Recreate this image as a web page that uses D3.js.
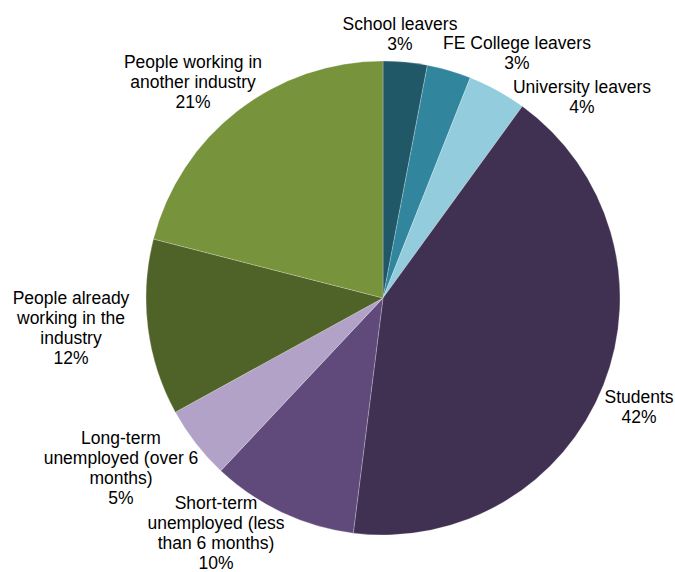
<!DOCTYPE html>
<html>
<head>
<meta charset="utf-8">
<script src="https://cdn.jsdelivr.net/npm/d3@7"></script>
<style>
  html, body { margin: 0; padding: 0; background: #fff; }
  svg { display: block; }
</style>
</head>
<body>
<svg id="chart" width="675" height="572"></svg>
<script>
// Segments, clockwise from 12 o'clock
const categories = [
  "School leavers",
  "FE College leavers",
  "University leavers",
  "Students",
  "Short-term unemployed (less than 6 months)",
  "Long-term unemployed (over 6 months)",
  "People already working in the industry",
  "People working in another industry"
];
const shares = [3, 3, 4, 42, 10, 5, 12, 21];
const colours = ["#215868", "#31859C", "#93CDDD", "#403152", "#604A7B", "#B3A2C7", "#4F6228", "#77933C"];

// Label text broken into the lines shown beside each segment
const labelLines = [
  ["School leavers"],
  ["FE College leavers"],
  ["University leavers"],
  ["Students"],
  ["Short-term", "unemployed (less", "than 6 months)"],
  ["Long-term", "unemployed (over 6", "months)"],
  ["People already", "working in the", "industry"],
  ["People working in", "another industry"]
];
// Anchor (centre x, first baseline y) of each label block
const labelPos = [
  [400, 30], [517, 49], [582, 93], [639, 403],
  [216, 509], [121, 444], [71, 304], [193, 68]
];

const svg = d3.select("#chart");
const cx = 383, cy = 298, radius = 237;
const lineH = 20;

const data = categories.map((c, i) => ({ name: c, value: shares[i], colour: colours[i], lines: labelLines[i], pos: labelPos[i] }));

const pie = d3.pie().sort(null).value(d => d.value);
const arc = d3.arc().innerRadius(0).outerRadius(radius);

const g = svg.append("g").attr("transform", `translate(${cx},${cy})`);
g.selectAll("path")
  .data(pie(data))
  .join("path")
  .attr("d", arc)
  .attr("fill", d => d.data.colour)
  .attr("stroke", "#ffffff")
  .attr("stroke-opacity", 0.6)
  .attr("stroke-width", 0.4)
  .attr("stroke-linejoin", "round");

const labels = svg.append("g")
  .attr("font-family", "'Liberation Sans', Arial, sans-serif")
  .attr("font-size", 17.5)
  .attr("fill", "#000")
  .attr("text-anchor", "middle");

data.forEach(d => {
  const t = labels.append("text")
    .attr("x", d.pos[0])
    .attr("y", d.pos[1]);
  const all = d.lines.concat([d3.format(".0f")(d.value) + "%"]);
  all.forEach((line, k) => {
    t.append("tspan")
      .attr("x", d.pos[0])
      .attr("dy", k === 0 ? 0 : lineH)
      .text(line);
  });
});
</script>
</body>
</html>
